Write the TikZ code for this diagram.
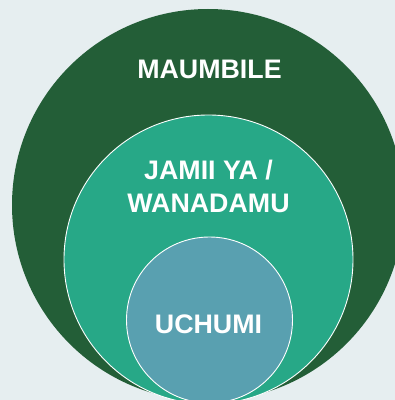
\documentclass[tikz,border=0pt]{standalone}
\usepackage{fontspec}
\setmainfont{Liberation Sans}
\definecolor{bg}{HTML}{E6EEF0}
\definecolor{darkgreen}{HTML}{235E37}
\definecolor{teal}{HTML}{27A887}
\definecolor{steel}{HTML}{59A0B0}
\begin{document}
\begin{tikzpicture}[x=1pt,y=1pt,
  ring/.style={circle,inner sep=0pt,outer sep=0pt},
  lbl/.style={text=white,font=\bfseries\fontsize{26.8}{33}\selectfont,align=center,inner sep=0pt}]
\useasboundingbox (0,0) rectangle (395,400);
\fill[bg] (0,0) rectangle (395,400);
\begin{scope}
\clip (0,0) rectangle (395,400);
\node[ring,fill=darkgreen,minimum size=392pt] (outer) at (208,195) {};
\node[ring,fill=teal,draw=white,line width=0.9pt,minimum size=289pt] (middle) at (208.5,140.5) {};
\node[ring,fill=steel,draw=white,line width=0.9pt,minimum size=166pt] (inner) at (209.5,80) {};
\end{scope}
\node[lbl] (t1) at (209.5,330.5) {MAUMBILE};
\node[lbl] (t2) at (208.5,213.5) {JAMII YA /\\WANADAMU};
\node[lbl] (t3) at (208.5,76) {UCHUMI};
\end{tikzpicture}
\end{document}
